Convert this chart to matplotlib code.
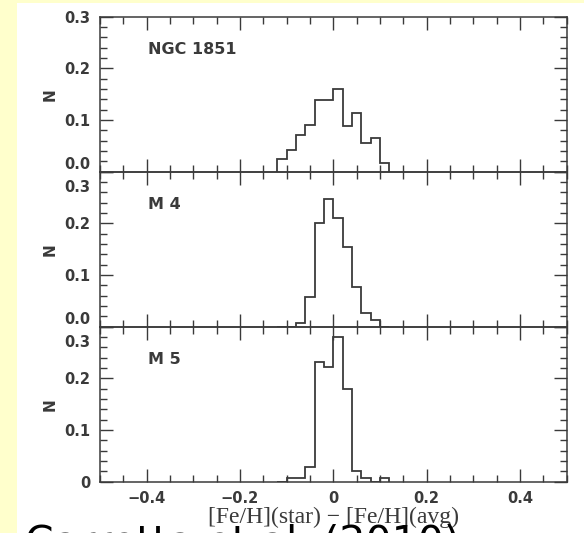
import matplotlib.pyplot as plt
from matplotlib.ticker import MultipleLocator, FixedLocator
from matplotlib.transforms import ScaledTranslation
from matplotlib.patches import Rectangle

# [Fe/H] spread histograms, three clusters (fraction of stars per 0.02 dex bin)
bin_edges = [-0.12, -0.10, -0.08, -0.06, -0.04, -0.02, 0.00, 0.02, 0.04, 0.06, 0.08, 0.10, 0.12]
ngc1851 = [0.025, 0.042, 0.071, 0.090, 0.139, 0.139, 0.161, 0.089, 0.114, 0.056, 0.065, 0.017]
m4 = [0.0, 0.0, 0.008, 0.057, 0.200, 0.247, 0.210, 0.155, 0.076, 0.026, 0.012, 0.0]
m5 = [0.0, 0.008, 0.008, 0.029, 0.232, 0.222, 0.280, 0.180, 0.021, 0.008, 0.0, 0.008]

clusters = ['NGC 1851', 'M 4', 'M 5']
series = [ngc1851, m4, m5]
ytick_vals = [0.0, 0.1, 0.2, 0.3]
ytick_labels = [['0.0', '0.1', '0.2', '0.3'],
                ['0.0', '0.1', '0.2', '0.3'],
                ['0', '0.1', '0.2', '0.3']]
xtick_vals = [-0.4, -0.2, 0.0, 0.2, 0.4]
xtick_labels = ['\u22120.4', '\u22120.2', '0', '0.2', '0.4']

ink = '#3a3a3a'
W, H = 584, 533
fig = plt.figure(figsize=(W / 100, H / 100), dpi=100, facecolor='#ffffcc')
fig.add_artist(Rectangle((17 / W, 0), 1, 1 - 3 / H, transform=fig.transFigure,
                         facecolor='white', edgecolor='none', zorder=-10))

left, width = 100 / W, 466.7 / W
top, ph = 1 - 16.7 / H, 155 / H

axes = []
for i, (name, vals, ylabs) in enumerate(zip(clusters, series, ytick_labels)):
    ax = fig.add_axes([left, top - (i + 1) * ph, width, ph])
    ax.set_facecolor('none')
    ax.stairs(vals, bin_edges, color=ink, lw=1.3)
    ax.set_xlim(-0.5, 0.5)
    ax.set_ylim(0, 0.3)
    ax.xaxis.set_major_locator(FixedLocator(xtick_vals))
    ax.xaxis.set_minor_locator(MultipleLocator(0.05))
    ax.set_yticks(ytick_vals, ylabs)
    ax.yaxis.set_minor_locator(MultipleLocator(0.02))
    ax.tick_params(which='both', direction='in', top=True, right=True,
                   color=ink, width=1.0, labelcolor=ink)
    ax.tick_params(which='major', length=9.5, labelsize=10.5, pad=7)
    ax.tick_params(which='minor', length=5)
    for sp in ax.spines.values():
        sp.set_color(ink)
        sp.set_linewidth(1.1)
    for lab in ax.get_yticklabels():
        lab.set_fontweight('bold')
    ax.set_ylabel('N', fontsize=11, fontweight='bold', color=ink, labelpad=5)
    ax.text(0.103, 0.79, name, transform=ax.transAxes, fontsize=11.5,
            fontweight='bold', color=ink, va='center', ha='left')
    if i < 2:
        ax.tick_params(labelbottom=False)
    else:
        ax.set_xticks(xtick_vals, xtick_labels)
        for lab in ax.get_xticklabels():
            lab.set_fontweight('bold')
        ax.set_xlabel('[Fe/H](star) \u2212 [Fe/H](avg)', family='Liberation Serif',
                      fontsize=17, color=ink, labelpad=0)
    axes.append(ax)

# keep the labels at the shared panel boundaries from colliding
fig.canvas.draw()
for i, ax in enumerate(axes):
    labs = ax.get_yticklabels()
    if i < 2:
        labs[0].set_transform(labs[0].get_transform() +
                              ScaledTranslation(0, 9 / 100, fig.dpi_scale_trans))
    if i > 0:
        labs[3].set_transform(labs[3].get_transform() +
                              ScaledTranslation(0, -14 / 100, fig.dpi_scale_trans))

# caption, mostly cut off by the bottom edge
fig.text(25 / W, 1 - 554 / H, 'Carretta et al. (2010)', fontsize=29.5,
         color='black', va='baseline', ha='left')

fig.savefig('out.png', dpi=100, facecolor=fig.get_facecolor())
